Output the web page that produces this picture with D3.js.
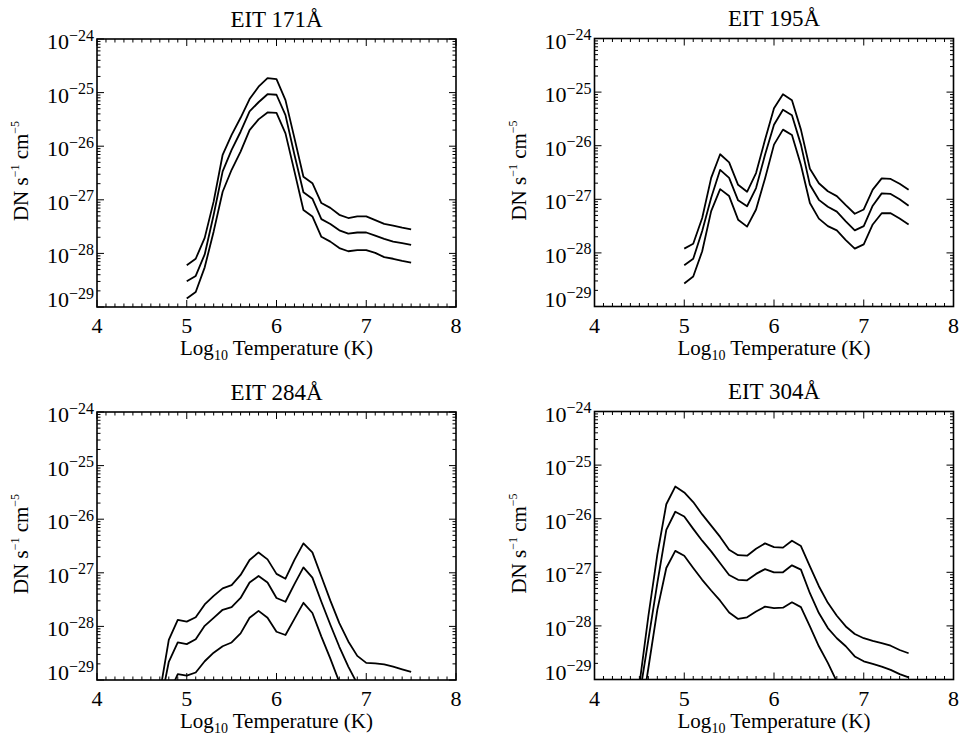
<!DOCTYPE html>
<html>
<head>
<meta charset="utf-8">
<script src="https://cdn.jsdelivr.net/npm/d3@7"></script>
<style>
  html, body { margin: 0; padding: 0; background: #fff; }
  svg { display: block; }
  text { font-family: "Liberation Serif", "Times New Roman", Times, serif; fill: #000; }
</style>
</head>
<body>
<svg id="chart" width="959" height="737"></svg>
<script>
// ---------------- DATA (log10 of DN s^-1 cm^-5) ----------------
const xTickValues = [4, 5, 6, 7, 8];
const yTickExponents = [-24, -25, -26, -27, -28, -29];
const panelTitles = ["EIT 171Å", "EIT 195Å", "EIT 284Å", "EIT 304Å"];

const temps171 = [5.0,5.1,5.2,5.3,5.4,5.5,5.6,5.7,5.8,5.9,6.0,6.1,6.2,6.3,6.4,6.5,6.6,6.7,6.8,6.9,7.0,7.1,7.2,7.3,7.4,7.5];
const upper171 = [-28.22,-28.10,-27.71,-27.03,-26.16,-25.79,-25.47,-25.12,-24.89,-24.73,-24.75,-25.14,-25.85,-26.57,-26.69,-27.06,-27.15,-27.28,-27.34,-27.31,-27.31,-27.38,-27.45,-27.48,-27.52,-27.55];
const middle171 = [-28.52,-28.42,-28.02,-27.28,-26.47,-26.07,-25.73,-25.35,-25.18,-25.03,-25.04,-25.42,-26.16,-26.86,-26.98,-27.36,-27.45,-27.57,-27.63,-27.61,-27.61,-27.67,-27.73,-27.78,-27.81,-27.84];
const lower171 = [-28.84,-28.72,-28.26,-27.59,-26.85,-26.44,-26.10,-25.70,-25.50,-25.37,-25.38,-25.76,-26.47,-27.19,-27.31,-27.69,-27.78,-27.90,-27.96,-27.94,-27.94,-27.99,-28.07,-28.10,-28.14,-28.17];

const temps195 = [5.0,5.1,5.2,5.3,5.4,5.5,5.6,5.7,5.8,5.9,6.0,6.1,6.2,6.3,6.4,6.5,6.6,6.7,6.8,6.9,7.0,7.1,7.2,7.3,7.4,7.5];
const upper195 = [-27.92,-27.83,-27.35,-26.60,-26.16,-26.31,-26.73,-26.86,-26.51,-25.89,-25.30,-25.04,-25.15,-25.70,-26.43,-26.70,-26.85,-26.94,-27.11,-27.27,-27.19,-26.82,-26.61,-26.62,-26.71,-26.82];
const middle195 = [-28.23,-28.11,-27.59,-26.97,-26.45,-26.60,-27.02,-27.13,-26.79,-26.17,-25.61,-25.33,-25.43,-25.98,-26.73,-27.01,-27.14,-27.23,-27.41,-27.58,-27.50,-27.12,-26.89,-26.90,-27.00,-27.12];
const lower195 = [-28.57,-28.44,-27.97,-27.22,-26.81,-26.94,-27.38,-27.51,-27.19,-26.61,-25.98,-25.70,-25.80,-26.36,-27.07,-27.36,-27.50,-27.58,-27.76,-27.92,-27.84,-27.47,-27.26,-27.26,-27.36,-27.47];

const temps284 = [4.7,4.8,4.9,5.0,5.1,5.2,5.3,5.4,5.5,5.6,5.7,5.8,5.9,6.0,6.1,6.2,6.3,6.4,6.5,6.6,6.7,6.8,6.9,7.0,7.1,7.2,7.3,7.4,7.5];
const upper284 = [-29.24,-28.25,-27.88,-27.91,-27.83,-27.59,-27.43,-27.29,-27.23,-27.04,-26.76,-26.62,-26.75,-27.02,-27.11,-26.76,-26.45,-26.62,-27.07,-27.52,-27.94,-28.28,-28.55,-28.68,-28.69,-28.71,-28.75,-28.80,-28.85];
const middle284 = [-29.51,-28.66,-28.30,-28.33,-28.24,-27.99,-27.84,-27.69,-27.64,-27.47,-27.18,-27.06,-27.18,-27.47,-27.54,-27.21,-26.90,-27.09,-27.54,-27.97,-28.38,-28.75,-29.07,-29.40,null,null,null,null,null];
const lower284 = [null,-29.26,-28.89,-28.92,-28.86,-28.65,-28.49,-28.37,-28.30,-28.13,-27.84,-27.71,-27.84,-28.10,-28.16,-27.86,-27.56,-27.75,-28.19,-28.60,-29.04,-29.40,null,null,null,null,null,null,null];

const temps304 = [4.5,4.6,4.7,4.8,4.9,5.0,5.1,5.2,5.3,5.4,5.5,5.6,5.7,5.8,5.9,6.0,6.1,6.2,6.3,6.4,6.5,6.6,6.7,6.8,6.9,7.0,7.1,7.2,7.3,7.4,7.5];
const upper304 = [-29.10,-27.82,-26.67,-25.73,-25.40,-25.51,-25.69,-25.92,-26.13,-26.34,-26.58,-26.68,-26.69,-26.56,-26.46,-26.53,-26.54,-26.41,-26.51,-26.89,-27.26,-27.57,-27.81,-28.01,-28.15,-28.23,-28.28,-28.32,-28.37,-28.45,-28.51];
const middle304 = [-29.32,-28.26,-27.20,-26.21,-25.87,-25.96,-26.19,-26.41,-26.61,-26.83,-27.05,-27.14,-27.15,-27.03,-26.94,-27.00,-27.00,-26.87,-26.95,-27.39,-27.76,-28.04,-28.23,-28.38,-28.57,-28.66,-28.71,-28.76,-28.82,-28.90,-28.96];
const lower304 = [-29.85,-28.79,-27.70,-26.92,-26.60,-26.69,-26.92,-27.14,-27.34,-27.53,-27.75,-27.87,-27.84,-27.73,-27.64,-27.67,-27.66,-27.56,-27.65,-28.01,-28.38,-28.69,-29.04,-29.40,null,null,null,null,null,null,null];

// ---------------- LAYOUT ----------------
const PW = 359, PH = 268;
const panels = [
  { title: panelTitles[0], temps: temps171, series: [upper171, middle171, lower171], left: 97,    top: 39 },
  { title: panelTitles[1], temps: temps195, series: [upper195, middle195, lower195], left: 594.5, top: 38.5 },
  { title: panelTitles[2], temps: temps284, series: [upper284, middle284, lower284], left: 97,    top: 412 },
  { title: panelTitles[3], temps: temps304, series: [upper304, middle304, lower304], left: 594.5, top: 411.5 }
];

const svg = d3.select("#chart");
const defs = svg.append("defs");

panels.forEach((p, i) => {
  const g = svg.append("g");
  const x = d3.scaleLinear().domain([4, 8]).range([p.left, p.left + PW]);
  const y = d3.scaleLog().domain([1e-29, 1e-24]).range([p.top + PH, p.top]);
  const bottom = p.top + PH, right = p.left + PW;

  defs.append("clipPath").attr("id", "clip" + i)
    .append("rect").attr("x", p.left).attr("y", p.top).attr("width", PW).attr("height", PH);

  // curves
  const line = d3.line()
    .defined(d => d[1] != null)
    .x(d => x(d[0]))
    .y(d => y(Math.pow(10, d[1])));
  p.series.forEach(s => {
    g.append("path")
      .attr("clip-path", `url(#clip${i})`)
      .attr("d", line(p.temps.map((t, k) => [t, s[k]])))
      .attr("fill", "none")
      .attr("stroke", "#000")
      .attr("stroke-width", 1.8)
      .attr("stroke-linejoin", "round");
  });

  // ticks
  const tk = g.append("g").attr("stroke", "#000").attr("stroke-width", 1);
  const majLen = 7, minLen = 3.5;
  const xMinor = d3.range(40, 81).map(v => v / 10);
  xMinor.forEach(v => {
    const isMaj = Math.abs(v - Math.round(v)) < 1e-6;
    const L = isMaj ? majLen : minLen;
    const xx = x(v);
    tk.append("line").attr("x1", xx).attr("x2", xx).attr("y1", bottom).attr("y2", bottom - L);
    tk.append("line").attr("x1", xx).attr("x2", xx).attr("y1", p.top).attr("y2", p.top + L);
  });
  yTickExponents.forEach(e => {
    const yy = y(Math.pow(10, e));
    [[p.left, 1], [right, -1]].forEach(([x0, dir]) => {
      tk.append("line").attr("x1", x0).attr("x2", x0 + dir * majLen).attr("y1", yy).attr("y2", yy);
    });
    if (e > -29) {
      for (let m = 2; m <= 9; m++) {
        const ym = y(m * Math.pow(10, e - 1));
        [[p.left, 1], [right, -1]].forEach(([x0, dir]) => {
          tk.append("line").attr("x1", x0).attr("x2", x0 + dir * minLen).attr("y1", ym).attr("y2", ym);
        });
      }
    }
  });

  // frame
  g.append("rect").attr("x", p.left).attr("y", p.top).attr("width", PW).attr("height", PH)
    .attr("fill", "none").attr("stroke", "#000").attr("stroke-width", 1.6);

  // x tick labels
  xTickValues.forEach(v => {
    g.append("text").attr("x", x(v)).attr("y", bottom + 26)
      .attr("text-anchor", "middle").attr("font-size", 22).text(v);
  });

  // y tick labels
  yTickExponents.forEach(e => {
    const yy = y(Math.pow(10, e));
    const t = g.append("text").attr("x", p.left - 3)
      .attr("y", e === -29 ? yy : yy + 10)
      .attr("text-anchor", "end").attr("font-size", 22);
    t.append("tspan").text("10");
    t.append("tspan").attr("font-size", 16).attr("dy", -8.5).text("\u2212" + Math.abs(e));
  });

  // title
  g.append("text").attr("x", (p.left + right) / 2).attr("y", p.top - 12.5)
    .attr("text-anchor", "middle").attr("font-size", 23).text(p.title);

  // x axis title
  const xt = g.append("text").attr("x", (p.left + right) / 2).attr("y", bottom + 48)
    .attr("text-anchor", "middle").attr("font-size", 21);
  xt.append("tspan").text("Log");
  xt.append("tspan").attr("font-size", 14).attr("dy", 5).text("10");
  xt.append("tspan").attr("dy", -5).text(" Temperature (K)");

  // y axis title
  const yt = g.append("text")
    .attr("transform", `translate(${p.left - 69},${p.top + PH / 2 - 2}) rotate(-90)`)
    .attr("text-anchor", "middle").attr("font-size", 21);
  yt.append("tspan").text("DN s");
  yt.append("tspan").attr("font-size", 12).attr("dy", -9).text("\u2212" + "1");
  yt.append("tspan").attr("dy", 9).text(" cm");
  yt.append("tspan").attr("font-size", 12).attr("dy", -9).text("\u2212" + "5");
});
</script>
</body>
</html>
